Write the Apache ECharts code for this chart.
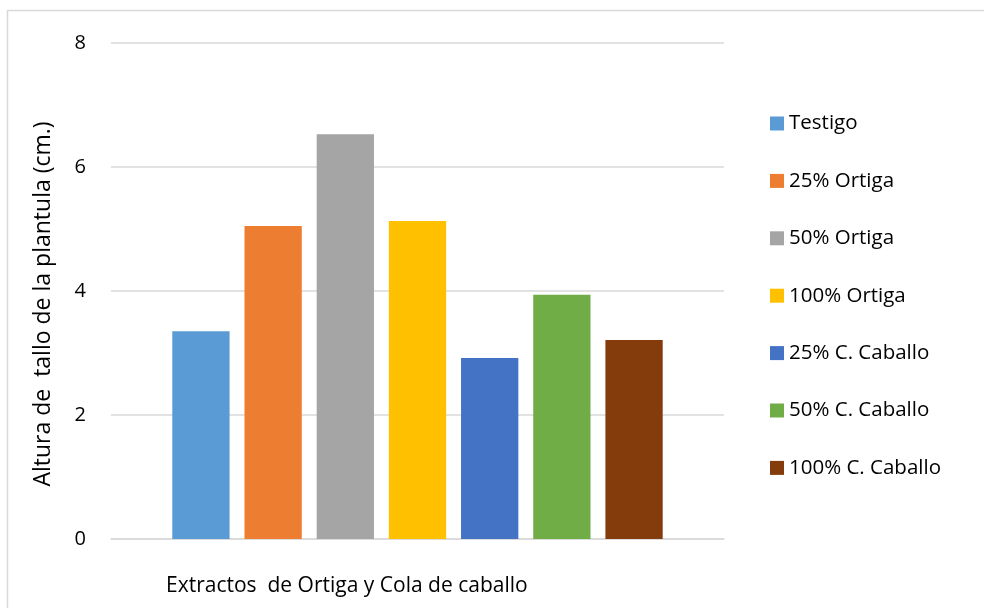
<!DOCTYPE html>
<html><head><meta charset="utf-8">
<script src="https://cdn.jsdelivr.net/npm/echarts@6/dist/echarts.min.js"></script>
<style>html,body{margin:0;padding:0;background:#fff}#c{width:984px;height:608px}</style>
</head><body><div id="c"></div>
<script>
const category = [""];
const seriesNames = ["Testigo","25% Ortiga","50% Ortiga","100% Ortiga","25% C. Caballo","50% C. Caballo","100% C. Caballo"];
const seriesValues = [3.35, 5.05, 6.53, 5.13, 2.92, 3.94, 3.21];
const colors = ["#5b9bd5","#ed7d31","#a5a5a5","#ffc000","#4472c4","#70ad47","#843c0c"];
const yTicks = [0,2,4,6,8];
const yTitle = "Altura de  tallo de la plantula (cm.)";
const xTitle = "Extractos  de Ortiga y Cola de caballo";
const FONT = "'Open Sans', 'Noto Sans', sans-serif";

const chart = echarts.init(document.getElementById('c'));
chart.setOption({
  animation:false,
  backgroundColor:'#fff',
  textStyle:{fontFamily:FONT},
  grid:{left:111, right:260, top:43, bottom:69},
  legend:{
    orient:'vertical', left:765, top:108,
    itemWidth:14, itemHeight:14, itemGap:36.4,
    icon:'rect',
    textStyle:{fontSize:20.5, lineHeight:20, color:'#000', fontFamily:FONT, padding:[0,0,0,0]},
    data:seriesNames
  },
  xAxis:{
    type:'category', data:category,
    axisLine:{lineStyle:{color:'#d9d9d9', width:1.5}},
    axisTick:{show:false}, axisLabel:{show:false}
  },
  yAxis:{
    type:'value', min:yTicks[0], max:yTicks[yTicks.length-1], interval:2,
    name:yTitle, nameLocation:'middle', nameGap:56,
    nameTextStyle:{fontSize:23, color:'#000', fontFamily:FONT, padding:[0,26,0,0]},
    axisLine:{show:false}, axisTick:{show:false},
    axisLabel:{fontSize:20, color:'#000', margin:25, fontFamily:FONT},
    splitLine:{lineStyle:{color:'#d9d9d9', width:1.5}}
  },
  graphic:[
    {type:'rect', left:5, top:8, shape:{width:1000, height:620}, style:{fill:null, stroke:'#d9d9d9', lineWidth:1.5}, silent:true, z:-1},
    {type:'text', left:166, top:576, style:{text:xTitle, fontSize:21, fill:'#000', fontFamily:FONT}}
  ],
  series: seriesNames.map((n,i)=>({
    name:n, type:'bar', data:[seriesValues[i]],
    itemStyle:{color:colors[i]},
    barGap:'26%', barCategoryGap:'20%'
  }))
});
</script></body></html>
